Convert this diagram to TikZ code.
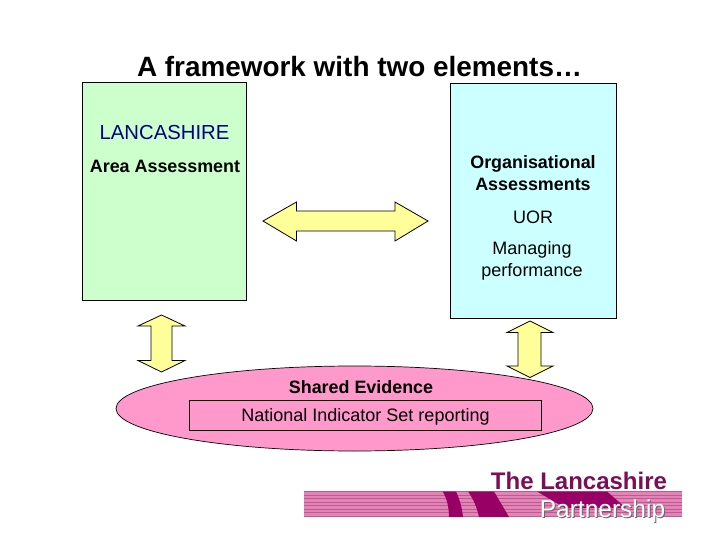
\documentclass[tikz,border=0pt]{standalone}
\usepackage{fontspec}
\usetikzlibrary{shapes.geometric}
\setmainfont{Liberation Sans}
\definecolor{boxgreen}{HTML}{CCFFCC}
\definecolor{boxcyan}{HTML}{CCFFFF}
\definecolor{arrowyellow}{HTML}{FFFF99}
\definecolor{ovalpink}{HTML}{FF99CC}
\definecolor{navytext}{HTML}{000080}
\definecolor{logodark}{HTML}{990066}
\definecolor{logotext}{HTML}{7A0F55}
\definecolor{logoband}{HTML}{BC5A92}
\definecolor{logolight}{HTML}{E484B6}
\tikzset{
  panel/.style={draw=black,line width=0.7pt},
  dblarrow/.style={draw=black,fill=arrowyellow,line width=0.8pt,line join=miter},
  label/.style={inner sep=0pt,font=\fontsize{18}{22}\selectfont,text=black,align=center},
  boldlabel/.style={label,font=\bfseries\fontsize{17.9}{22}\selectfont},
  slant/.style={fill=logodark,draw=none}
}
\begin{document}
\begin{tikzpicture}[x=1pt,y=-1pt]
\useasboundingbox (0,0) rectangle (720,540);
\fill[white] (0,0) rectangle (720,540);
% panels
\node[panel,fill=boxgreen,minimum width=164pt,minimum height=218pt,inner sep=0pt] (left) at (164,191) {};
\node[panel,fill=boxcyan,minimum width=166pt,minimum height=235pt,inner sep=0pt] (right) at (533,200.5) {};
% oval
\node[draw=black,line width=0.7pt,fill=ovalpink,ellipse,minimum width=477pt,minimum height=85pt,inner sep=0pt] (oval) at (354.5,408.5) {};
\node[draw=black,line width=0.7pt,minimum width=352pt,minimum height=29.5pt,inner sep=0pt] (natbox) at (365,415.5) {};
% arrows
\draw[dblarrow] (263,221) -- (296.5,202) -- (296.5,211) -- (395,211) -- (395,202) -- (428,221) -- (395,241) -- (395,231) -- (296.5,231) -- (296.5,241) -- cycle;
\draw[dblarrow] (161.5,315) -- (185,326) -- (172,326) -- (172,360.5) -- (185,360.5) -- (161.5,372) -- (138,360.5) -- (151,360.5) -- (151,326) -- (138,326) -- cycle;
\draw[dblarrow] (530,321) -- (553,332.5) -- (541,332.5) -- (541,366) -- (553,366) -- (530,377.5) -- (507,366) -- (518,366) -- (518,332.5) -- (507,332.5) -- cycle;
% texts
\node[inner sep=0pt,font=\bfseries\fontsize{27.9}{32}\selectfont] (title) at (359.5,67) {A framework with two elements…};
\node[label,text=navytext,font=\fontsize{20.3}{24}\selectfont] (lanc) at (164.5,133) {LANCASHIRE};
\node[boldlabel] (area) at (165,166) {Area Assessment};
\node[boldlabel] (org) at (533,173.5) {Organisational\\Assessments};
\node[label] (uor) at (533,217) {UOR};
\node[label] (manage) at (532,261) {Managing\\performance};
\node[boldlabel] (shared) at (361,387) {Shared Evidence};
\node[label] (nis) at (365.5,417) {National Indicator Set reporting};
% logo
\fill[logolight] (304,491) rectangle (682,517);
\foreach \yy in {491,494.5,...,516} {\fill[logoband] (304,\yy) rectangle (682,\yy+1.4);}
\fill[slant] (442.5,491.5) .. controls (447,498) and (449,508) .. (449,517) -- (463,517) .. controls (462,508) and (460,500) .. (456,491.5) -- cycle;
\fill[slant] (468,491.5) -- (494,491.5) -- (509,517) -- (479,517) .. controls (477,508) and (474,500) .. (468,491.5) -- cycle;
\fill[slant] (537,491.5) -- (607,491.5) -- (626,508) -- (565,508) -- cycle;
\node[inner sep=0pt,text=logotext,font=\bfseries\fontsize{24}{26}\selectfont] (logoa) at (579,481) {The Lancashire};
\node[inner sep=0pt,text=black!60,font=\fontsize{24.5}{26}\selectfont] (logoshadow) at (603.5,512) {Partnership};
\node[inner sep=0pt,text=white,font=\fontsize{24.5}{26}\selectfont] (logob) at (602.5,511) {Partnership};
\end{tikzpicture}
\end{document}
